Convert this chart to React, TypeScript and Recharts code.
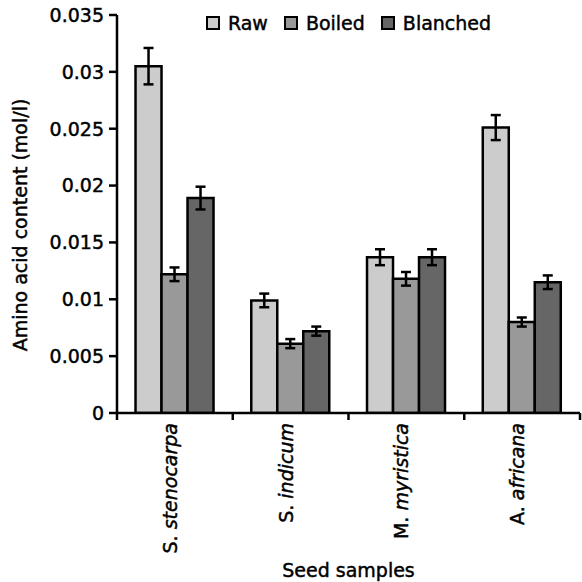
import React from 'react';
import { BarChart, Bar, XAxis, YAxis, ErrorBar, Legend } from 'recharts';

const categories = ['S. stenocarpa', 'S. indicum', 'M. myristica', 'A. africana'];
const seriesNames = ['Raw', 'Boiled', 'Blanched'];
const seriesKeys = ['raw', 'boiled', 'blanched'];
const seriesColors = ['#cccccc', '#999999', '#666666'];

const raw = [0.0305, 0.0099, 0.0137, 0.0251];
const boiled = [0.0122, 0.0061, 0.0118, 0.008];
const blanched = [0.0189, 0.0072, 0.0137, 0.0115];
const rawErr = [0.0016, 0.0006, 0.0007, 0.0011];
const boiledErr = [0.0006, 0.0004, 0.0006, 0.0004];
const blanchedErr = [0.001, 0.0004, 0.0007, 0.0006];

const yTicks = [0, 0.005, 0.01, 0.015, 0.02, 0.025, 0.03, 0.035];
const yLabel = 'Amino acid content (mol/l)';
const xLabel = 'Seed samples';

const data = categories.map((name, i) => ({
  name,
  raw: raw[i],
  rawErr: rawErr[i],
  boiled: boiled[i],
  boiledErr: boiledErr[i],
  blanched: blanched[i],
  blanchedErr: blanchedErr[i],
}));

const FONT = '"DejaVu Sans", sans-serif';
const FS = 19;
const TS = 0.45;

function XTick(props: any) {
  const { x, y, payload, index, width } = props;
  const half = payload && payload.offset ? payload.offset : width / categories.length / 2;
  const parts = String(payload.value).split(' ');
  const genus = parts[0];
  const species = parts.slice(1).join(' ');
  const tx = x + 2;
  const ty = y + 10;
  return (
    <g>
      <line x1={x - half} y1={y} x2={x - half} y2={y + 7} stroke="#000" strokeWidth={2.5} />
      {index === categories.length - 1 && (
        <line x1={x + half} y1={y} x2={x + half} y2={y + 7} stroke="#000" strokeWidth={2.5} />
      )}
      <text
        transform={`translate(${tx}, ${ty}) rotate(-90)`}
        x={0}
        y={0}
        textAnchor="end"
        fontFamily={FONT}
        fontSize={FS}
        fill="#000"
        stroke="#000"
        strokeWidth={TS}
        style={{ whiteSpace: 'pre' }}
      >
        <tspan>{genus + ' '}</tspan>
        <tspan fontStyle="italic">{species}</tspan>
      </text>
    </g>
  );
}

function YTick(props: any) {
  const { x, y, payload } = props;
  return (
    <text
      x={x}
      y={y}
      dy="0.36em"
      textAnchor="end"
      fontFamily={FONT}
      fontSize={FS}
      fill="#000"
      stroke="#000"
      strokeWidth={TS}
    >
      {String(payload.value)}
    </text>
  );
}

function LegendContent() {
  return (
    <div
      style={{
        display: 'flex',
        justifyContent: 'center',
        alignItems: 'center',
        fontFamily: FONT,
        fontSize: FS,
        color: '#000',
        lineHeight: '20px',
        WebkitTextStroke: `${TS}px #000`,
      }}
    >
      {seriesNames.map((n, i) => (
        <div key={n} style={{ display: 'flex', alignItems: 'center', marginLeft: i === 0 ? 0 : 16 }}>
          <div
            style={{
              width: 10,
              height: 10,
              background: seriesColors[i],
              border: '2px solid #000',
              marginRight: 8,
            }}
          />
          <span>{n}</span>
        </div>
      ))}
    </div>
  );
}

export default function App() {
  return (
    <div style={{ position: 'absolute', left: 0, top: 0, width: 582, height: 582, background: '#fff' }}>
      <BarChart
        width={582}
        height={582}
        data={data}
        margin={{ top: 15, right: 2, bottom: 0, left: 0 }}
        barCategoryGap="16%"
        barGap={0}
      >
        <XAxis
          dataKey="name"
          height={169}
          tickSize={0}
          tickMargin={0}
          tickLine={false}
          axisLine={{ stroke: '#000', strokeWidth: 2.5 }}
          tick={<XTick />}
          interval={0}
          label={(p: any) => {
            const vb = p.viewBox || { x: 117, y: 413, width: 463, height: 169 };
            return (
              <text
                x={vb.x + vb.width / 2}
                y={vb.y + 164}
                textAnchor="middle"
                fontFamily={FONT}
                fontSize={FS}
                fill="#000"
                stroke="#000"
                strokeWidth={TS}
              >
                {xLabel}
              </text>
            );
          }}
        />
        <YAxis
          width={117}
          domain={[0, 0.035]}
          ticks={yTicks}
          tickSize={8}
          tickMargin={5}
          interval={0}
          allowDataOverflow
          axisLine={{ stroke: '#000', strokeWidth: 2.5 }}
          tickLine={{ stroke: '#000', strokeWidth: 2.5 }}
          tick={<YTick />}
          label={(p: any) => {
            const vb = p.viewBox || { x: 0, y: 15, width: 117, height: 398 };
            const cy = vb.y + vb.height / 2 + 11;
            return (
              <text
                transform={`translate(27, ${cy}) rotate(-90)`}
                x={0}
                y={0}
                textAnchor="middle"
                fontFamily={FONT}
                fontSize={FS}
                fill="#000"
                stroke="#000"
                strokeWidth={TS}
              >
                {yLabel}
              </text>
            );
          }}
        />
        <Legend
          layout="horizontal"
          verticalAlign="middle"
          align="center"
          content={<LegendContent />}
          wrapperStyle={{ position: 'absolute', top: 13, left: 117, width: 463, height: 20 }}
        />
        {seriesKeys.map((k, i) => (
          <Bar
            key={k}
            dataKey={k}
            name={seriesNames[i]}
            fill={seriesColors[i]}
            stroke="#000"
            strokeWidth={2.5}
            isAnimationActive={false}
          >
            <ErrorBar dataKey={k + 'Err'} width={5} stroke="#000" strokeWidth={2.5} direction="y" />
          </Bar>
        ))}
      </BarChart>
    </div>
  );
}
